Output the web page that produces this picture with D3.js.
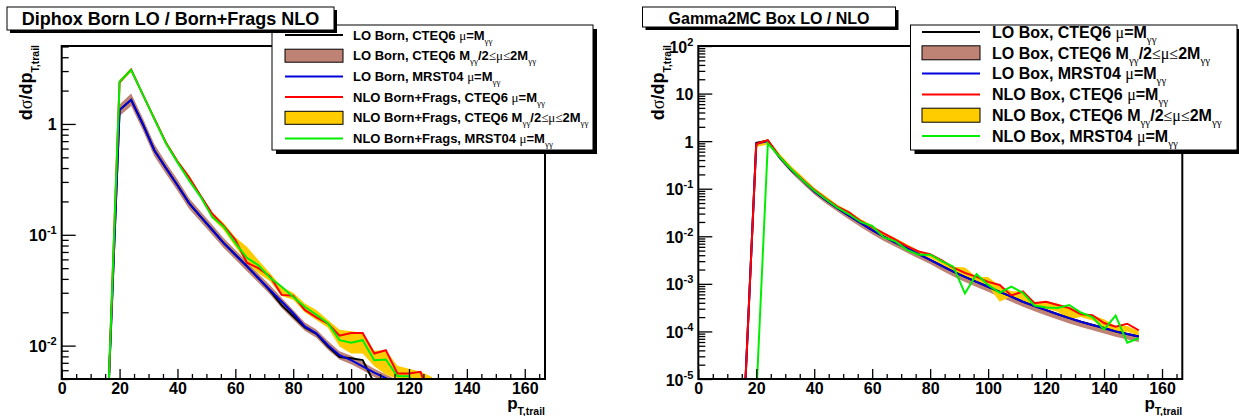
<!DOCTYPE html>
<html><head><meta charset="utf-8">
<script src="https://cdn.jsdelivr.net/npm/d3@7"></script>
<style>
body{margin:0;background:#fff;}
svg{display:block;}
text{font-family:"Liberation Sans",Arial,Helvetica,sans-serif;font-weight:bold;fill:#000;}
</style></head><body>
<svg id="c" width="1239" height="416"></svg>
<script>
// ---------------- DATA ----------------
const xTickMajor = [0,20,40,60,80,100,120,140,160];
const xTickMinor = [5,10,15,25,30,35,45,50,55,65,70,75,85,90,95,105,110,115,125,130,135,145,150,155,165];

// Left panel: Diphox Born LO / Born+Frags NLO
const binsLeft = [16,20,24,28,32,36,40,44,48,52,56,60,64,68,72,76,80,84,88,92,96,100,104,108,112,116,120,124,128];
const loBornCteq6   = [0.003,1.34,1.65,1.0,0.58,0.40,0.28,0.193,0.146,0.111,0.084,0.066,0.052,0.0406,0.0312,0.0232,0.0184,0.0146,0.0128,0.0098,0.0079,0.0077,0.0074,0.0046,0.003,0.002,0.0015,0.001,0.0008];
const loBornBandLo  = [0.003,1.18,1.45,0.88,0.51,0.355,0.25,0.172,0.131,0.1,0.076,0.06,0.047,0.037,0.029,0.0218,0.0172,0.0136,0.0118,0.0092,0.0075,0.0068,0.006,0.0052,0.0047,0.0041,0.0036,0.0032,0.0027];
const loBornBandHi  = [0.003,1.5,1.88,1.13,0.66,0.45,0.315,0.215,0.162,0.123,0.093,0.073,0.057,0.0445,0.035,0.027,0.021,0.0162,0.014,0.011,0.0089,0.0081,0.0071,0.0062,0.0055,0.0049,0.0044,0.0038,0.0033];
const loBornMrst04  = [0.003,1.34,1.65,1.0,0.58,0.40,0.28,0.193,0.146,0.111,0.084,0.066,0.052,0.0406,0.0318,0.025,0.0196,0.0149,0.0129,0.0101,0.0082,0.0074,0.0065,0.0057,0.0051,0.0045,0.004,0.0035,0.003];
const nloBornCteq6  = [0.003,2.38,3.1,1.85,1.12,0.68,0.46,0.33,0.225,0.155,0.12,0.09,0.056,0.05,0.042,0.0287,0.0282,0.021,0.018,0.0158,0.0123,0.013,0.013,0.0085,0.0091,0.0056,0.0056,0.0058,0.003];
const nloBornBandLo = [0.003,2.3,2.95,1.78,1.07,0.65,0.44,0.32,0.215,0.14,0.11,0.078,0.056,0.045,0.038,0.028,0.026,0.02,0.017,0.0145,0.0098,0.0085,0.0085,0.0065,0.0055,0.005,0.0048,0.0045,0.004];
const nloBornBandHi = [0.003,2.5,3.2,1.92,1.16,0.7,0.47,0.345,0.232,0.16,0.128,0.095,0.078,0.059,0.045,0.034,0.03,0.024,0.021,0.017,0.0139,0.0135,0.013,0.009,0.0091,0.0066,0.0062,0.0058,0.0052];
const nloBornMrst04 = [0.003,2.41,3.07,1.85,1.11,0.67,0.45,0.31,0.22,0.145,0.118,0.084,0.062,0.053,0.041,0.034,0.0275,0.0224,0.019,0.0159,0.0112,0.0106,0.0112,0.0074,0.0075,0.0053,0.0053,0.0035,0.003];

// Right panel: Gamma2MC Box LO / NLO
const binsRight = [16,20,24,28,32,36,40,44,48,52,56,60,64,68,72,76,80,84,88,92,96,100,104,108,112,116,120,124,128,132,136,140,144,148,152];
const loBoxCteq6   = [4e-6,0.92,1.02,0.46,0.25,0.15,0.088,0.058,0.039,0.027,0.019,0.0135,0.0098,0.0074,0.0056,0.0042,0.0032,0.0024,0.0018,0.0014,0.0011,0.00087,0.00068,0.00054,0.00042,0.00034,0.00028,0.00023,0.00019,0.00016,0.000137,0.000118,0.0001,0.000088,0.000078];
const loBoxBandLo  = [4e-6,0.8,0.9,0.41,0.22,0.127,0.076,0.049,0.033,0.0225,0.0157,0.011,0.008,0.006,0.0045,0.0034,0.0026,0.0019,0.00143,0.0011,0.00086,0.00068,0.00053,0.00042,0.00033,0.000265,0.000215,0.000178,0.000147,0.000124,0.000106,0.000091,0.000077,0.000068,0.00006];
const loBoxBandHi  = [4e-6,0.95,1.1,0.5,0.27,0.158,0.095,0.062,0.042,0.029,0.0205,0.0145,0.0106,0.008,0.006,0.0045,0.0034,0.0026,0.0019,0.0015,0.00118,0.00093,0.00073,0.00058,0.00045,0.00036,0.0003,0.000245,0.0002,0.00017,0.000145,0.000125,0.000107,0.000094,0.000083];
const loBoxMrst04  = [4e-6,0.88,1.0,0.46,0.25,0.15,0.088,0.058,0.039,0.027,0.019,0.0135,0.0098,0.0074,0.0056,0.0042,0.0032,0.0024,0.0018,0.0014,0.0011,0.00087,0.00068,0.00054,0.00042,0.00034,0.00028,0.00023,0.00019,0.00016,0.000137,0.000118,0.0001,0.000088,0.000078];
const nloBoxCteq6  = [4e-6,0.87,1.05,0.48,0.26,0.155,0.095,0.062,0.042,0.032,0.021,0.0155,0.0115,0.0085,0.0062,0.0048,0.0042,0.0031,0.0022,0.0017,0.0014,0.0011,0.00095,0.00057,0.00069,0.00039,0.00042,0.00036,0.00031,0.00023,0.00022,0.00015,0.000125,0.000145,0.000105];
const nloBoxBandLo = [4e-6,0.75,0.85,0.47,0.25,0.15,0.09,0.06,0.04,0.028,0.019,0.014,0.01,0.0075,0.0055,0.0042,0.0035,0.0026,0.0018,0.0014,0.0011,0.0009,0.00042,0.00055,0.00045,0.00034,0.0003,0.00026,0.00018,0.0002,0.00017,0.00012,0.00009,0.0001,0.00008];
const nloBoxBandHi = [4e-6,0.95,1.1,0.55,0.3,0.18,0.105,0.07,0.046,0.034,0.023,0.017,0.012,0.0092,0.0068,0.005,0.0042,0.0031,0.0023,0.0022,0.0014,0.0014,0.0009,0.0007,0.0007,0.00042,0.00043,0.00038,0.00032,0.00025,0.00022,0.00018,0.00013,0.00013,0.0001];
const nloBoxMrst04 = [1e-7,4e-6,0.9,0.47,0.26,0.15,0.092,0.06,0.04,0.029,0.02,0.0165,0.0095,0.0078,0.0052,0.0041,0.0041,0.003,0.0023,0.00063,0.0016,0.00095,0.00065,0.00087,0.00065,0.00035,0.00032,0.00031,0.00036,0.00025,0.0002,0.00011,0.000215,0.000058,0.000072];

const legendLeft = [
  "LO Born, CTEQ6 #mu=M_{#gamma#gamma}",
  "LO Born, CTEQ6 M_{#gamma#gamma}/2#leq#mu#leq2M_{#gamma#gamma}",
  "LO Born, MRST04 #mu=M_{#gamma#gamma}",
  "NLO Born+Frags, CTEQ6 #mu=M_{#gamma#gamma}",
  "NLO Born+Frags, CTEQ6 M_{#gamma#gamma}/2#leq#mu#leq2M_{#gamma#gamma}",
  "NLO Born+Frags, MRST04 #mu=M_{#gamma#gamma}"];
const legendRight = [
  "LO Box, CTEQ6 #mu=M_{#gamma#gamma}",
  "LO Box, CTEQ6 M_{#gamma#gamma}/2#leq#mu#leq2M_{#gamma#gamma}",
  "LO Box, MRST04 #mu=M_{#gamma#gamma}",
  "NLO Box, CTEQ6 #mu=M_{#gamma#gamma}",
  "NLO Box, CTEQ6 M_{#gamma#gamma}/2#leq#mu#leq2M_{#gamma#gamma}",
  "NLO Box, MRST04 #mu=M_{#gamma#gamma}"];

const C = {black:"#000000", brown:"#bf8375", blue:"#0000dd", red:"#ff0000", yellow:"#ffcc00", green:"#00ee00"};

// ---------------- HELPERS ----------------
const svg = d3.select("#c");
const GREEK = {"#mu":"\u03bc","#gamma":"\u03b3","#leq":"\u2264","#sigma":"\u03c3"};
function parseRoot(str){
  const out=[]; let i=0, pos="base";
  while(i<str.length){
    if((str[i]==="_"||str[i]==="^") && str[i+1]==="{"){ pos = str[i]==="_"?"sub":"sup"; i+=2; continue; }
    if(str[i]==="}"){ pos="base"; i++; continue; }
    if(str[i]==="#"){ const m=str.slice(i).match(/^#[a-z]+/)[0]; out.push({t:GREEK[m],g:true,pos}); i+=m.length; continue; }
    let j=i; while(j<str.length && !(str[j]==="#"||str[j]==="}"||((str[j]==="_"||str[j]==="^")&&str[j+1]==="{"))) j++;
    out.push({t:str.slice(i,j),g:false,pos}); i=j;
  }
  return out;
}
function rich(g,x,y,str,o){
  const t=g.append("text").attr("x",x).attr("y",y).attr("font-size",o.size).attr("text-anchor",o.anchor||"start");
  if(o.rotate) t.attr("transform",`rotate(${o.rotate},${x},${y})`);
  let cur=0;
  parseRoot(str).forEach(s=>{
    const target = s.pos==="sub"?o.subDy:(s.pos==="sup"?-o.supDy:0);
    const ts=t.append("tspan").text(s.t).attr("dy",target-cur);
    cur=target;
    if(s.pos!=="base") ts.attr("font-size",o.small);
    if(s.g) ts.attr("font-family",'"Liberation Serif","Times New Roman",serif').attr("font-weight","normal");
  });
  return t;
}
function logLabel(v){
  const e=Math.round(Math.log10(v));
  if(e===0) return "1";
  if(e===1) return "10";
  return "10^{"+e+"}";
}

function panel(cfg){
  const x=d3.scaleLinear().domain([0,167]).range([cfg.x0,cfg.x1]);
  const y=d3.scaleLog().domain(cfg.yDomain).range([cfg.y1,cfg.y0]);
  const g=svg.append("g");
  const clip="clip"+cfg.id;
  g.append("clipPath").attr("id",clip).append("rect")
    .attr("x",cfg.x0).attr("y",cfg.y0).attr("width",cfg.x1-cfg.x0).attr("height",cfg.y1-cfg.y0);
  const data=g.append("g").attr("clip-path",`url(#${clip})`);
  const bins=cfg.bins;
  cfg.bands.forEach(b=>{
    const area=d3.area().x((d,i)=>x(bins[i])).y0((d,i)=>y(b.lo[i])).y1((d,i)=>y(b.hi[i]));
    data.append("path").datum(b.lo).attr("d",area).attr("fill",b.color).attr("stroke","none");
  });
  cfg.lines.forEach(l=>{
    const line=d3.line().x((d,i)=>x(bins[i])).y(d=>y(d));
    data.append("path").datum(l.v).attr("d",line).attr("fill","none").attr("stroke",l.color).attr("stroke-width",2).attr("stroke-linejoin","miter");
  });
  // frame
  g.append("rect").attr("x",cfg.x0).attr("y",cfg.y0).attr("width",cfg.x1-cfg.x0).attr("height",cfg.y1-cfg.y0)
    .attr("fill","none").attr("stroke","#000").attr("stroke-width",2);
  // x axis
  const xa=g.append("g").attr("transform",`translate(0,${cfg.y1})`)
    .call(d3.axisBottom(x).tickValues(xTickMajor).tickSize(-10).tickPadding(3).tickFormat(d3.format("d")));
  const xm=g.append("g").attr("transform",`translate(0,${cfg.y1})`)
    .call(d3.axisBottom(x).tickValues(xTickMinor).tickSize(-5).tickFormat(""));
  [xa,xm].forEach(a=>{a.select(".domain").remove(); a.selectAll("line").attr("stroke","#000").attr("stroke-width",1.3);});
  xa.attr("font-family",null).attr("font-size",null);
  xa.selectAll("text").attr("font-size",16).attr("fill","#000").attr("dy","0.72em");
  // y axis
  const lo=Math.log10(cfg.yDomain[0]), hi=Math.log10(cfg.yDomain[1]);
  const majors=[], minors=[];
  for(let e=Math.floor(lo);e<=Math.ceil(hi);e++){
    const v=Math.pow(10,e);
    if(v>=cfg.yDomain[0]*0.999 && v<=cfg.yDomain[1]*1.001) majors.push(v);
    for(let k=2;k<=9;k++){const m=k*v; if(m>=cfg.yDomain[0]*0.999 && m<=cfg.yDomain[1]*1.001) minors.push(m);}
  }
  const ya=g.append("g").attr("transform",`translate(${cfg.x0},0)`)
    .call(d3.axisLeft(y).tickValues(majors).tickSize(-14).tickFormat(""));
  const ym=g.append("g").attr("transform",`translate(${cfg.x0},0)`)
    .call(d3.axisLeft(y).tickValues(minors).tickSize(-7).tickFormat(""));
  [ya,ym].forEach(a=>{a.select(".domain").remove(); a.selectAll("line").attr("stroke","#000").attr("stroke-width",1.3);});
  ya.selectAll(".tick").each(function(d){
    const tk=d3.select(this); tk.select("text").remove();
    rich(tk,-cfg.labPad,6,logLabel(d),{size:16,small:11,subDy:4,supDy:7,anchor:"end"});
  });
  // axis titles
  rich(g,cfg.x1,409,"p_{T,trail}",{size:17,small:10.5,subDy:6,supDy:0,anchor:"end"});
  rich(g,cfg.ytx,cfg.y0-1,"d#sigma/dp_{T,trail}",{size:18,small:10.5,subDy:7,supDy:0,anchor:"end",rotate:-90});
}

function legend(cfg){
  const g=svg.append("g");
  g.append("rect").attr("x",cfg.x+4).attr("y",cfg.y+4).attr("width",cfg.w).attr("height",cfg.h).attr("fill","#000");
  g.append("rect").attr("x",cfg.x).attr("y",cfg.y).attr("width",cfg.w).attr("height",cfg.h).attr("fill","#fff").attr("stroke","#000").attr("stroke-width",1);
  cfg.items.forEach((it,i)=>{
    const cy=cfg.row0+cfg.rowH*i;
    if(it.type==="fill"){
      g.append("rect").attr("x",cfg.sx0).attr("y",cy-cfg.boxH/2).attr("width",cfg.sx1-cfg.sx0).attr("height",cfg.boxH)
        .attr("fill",it.color).attr("stroke","#000").attr("stroke-width",1);
    } else {
      g.append("line").attr("x1",cfg.sx0).attr("x2",cfg.sx1).attr("y1",cy).attr("y2",cy).attr("stroke",it.color).attr("stroke-width",2);
    }
    rich(g,cfg.tx,cy+cfg.base,it.label,{size:cfg.size,small:cfg.small,subDy:cfg.subDy,supDy:0});
  });
}
function title(cfg){
  const g=svg.append("g");
  g.append("rect").attr("x",cfg.x+3).attr("y",cfg.y+3).attr("width",cfg.w).attr("height",cfg.h).attr("fill","#000");
  g.append("rect").attr("x",cfg.x).attr("y",cfg.y).attr("width",cfg.w).attr("height",cfg.h).attr("fill","#fff").attr("stroke","#000").attr("stroke-width",1);
  g.append("text").attr("x",cfg.x+cfg.w/2).attr("y",cfg.base).attr("text-anchor","middle").attr("font-size",cfg.size).text(cfg.text);
}

// ---------------- DRAW ----------------
panel({id:"L",x0:61.7,x1:545,y0:46,y1:379,yDomain:[0.005,5.05],bins:binsLeft,labPad:5,ytx:32,
  bands:[{lo:loBornBandLo,hi:loBornBandHi,color:C.brown},{lo:nloBornBandLo,hi:nloBornBandHi,color:C.yellow}],
  lines:[{v:loBornCteq6,color:C.black},{v:loBornMrst04,color:C.blue},{v:nloBornCteq6,color:C.red},{v:nloBornMrst04,color:C.green}]});
panel({id:"R",x0:698.3,x1:1182.3,y0:46,y1:379,yDomain:[1e-5,100],bins:binsRight,labPad:5,ytx:664,
  bands:[{lo:loBoxBandLo,hi:loBoxBandHi,color:C.brown},{lo:nloBoxBandLo,hi:nloBoxBandHi,color:C.yellow}],
  lines:[{v:loBoxCteq6,color:C.black},{v:loBoxMrst04,color:C.blue},{v:nloBoxCteq6,color:C.red},{v:nloBoxMrst04,color:C.green}]});

const types=[{type:"line",color:C.black},{type:"fill",color:C.brown},{type:"line",color:C.blue},{type:"line",color:C.red},{type:"fill",color:C.yellow},{type:"line",color:C.green}];
legend({x:272,y:25,w:321,h:125,row0:35,rowH:20.7,sx0:285,sx1:343,boxH:13,tx:353,base:4.6,size:13,small:9,subDy:4,
  items:legendLeft.map((l,i)=>({label:l,type:types[i].type,color:types[i].color}))});
legend({x:910.5,y:25,w:326.5,h:125,row0:32,rowH:20.8,sx0:922,sx1:980,boxH:14,tx:992,base:5.7,size:16,small:11,subDy:5,
  items:legendRight.map((l,i)=>({label:l,type:types[i].type,color:types[i].color}))});

title({x:7,y:7,w:327,h:23,base:25,size:18,text:"Diphox Born LO / Born+Frags NLO"});
title({x:642.5,y:7,w:253,h:20,base:23.5,size:16,text:"Gamma2MC Box LO / NLO"});
</script>
</body></html>
